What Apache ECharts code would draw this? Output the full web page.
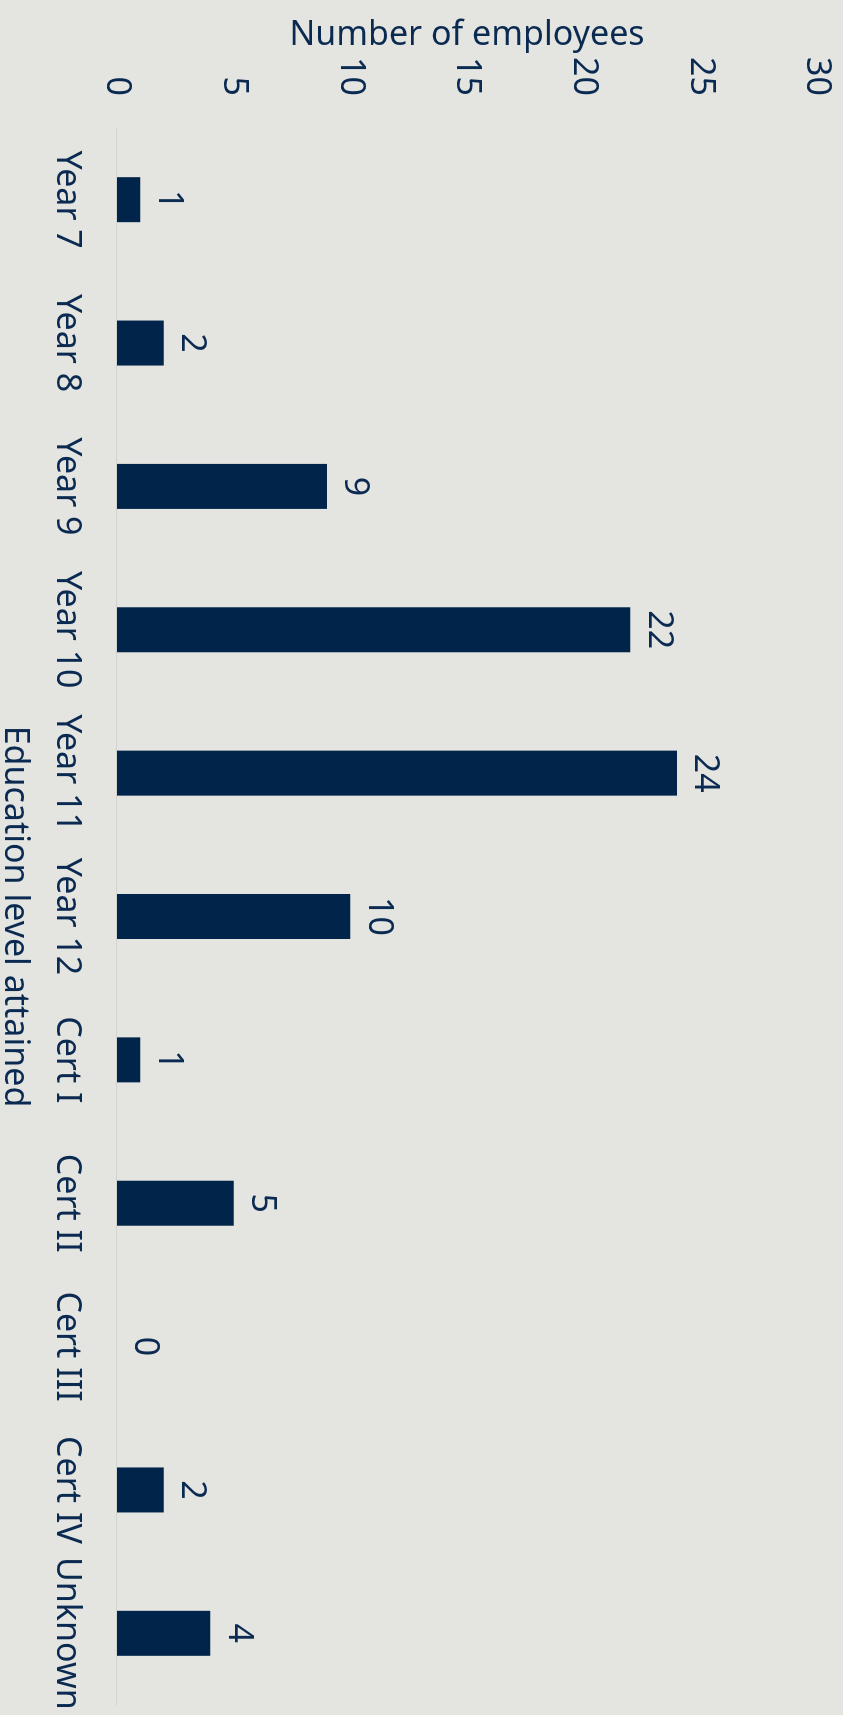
<!DOCTYPE html>
<html>
<head>
<meta charset="utf-8">
<title>Education level attained</title>
<script src="https://cdn.jsdelivr.net/npm/echarts@6/dist/echarts.min.js"></script>
<style>
  html, body { margin: 0; padding: 0; width: 843px; height: 1715px; overflow: hidden; background: #E4E5E0; }
  /* The chart is laid out landscape and turned a quarter turn clockwise onto the portrait page. */
  #chart {
    position: absolute; left: 0; top: 0;
    width: 1715px; height: 843px;
    transform-origin: 0 0;
    transform: translate(843px, 0) rotate(90deg);
  }
</style>
</head>
<body>
<div id="chart"></div>
<script>
const categories = ['Year 7', 'Year 8', 'Year 9', 'Year 10', 'Year 11', 'Year 12', 'Cert I', 'Cert II', 'Cert III', 'Cert IV', 'Unknown'];
const employees = [1, 2, 9, 22, 24, 10, 1, 5, 0, 2, 4];
const valueTicks = [0, 5, 10, 15, 20, 25, 30];

const NAVY = '#00244A';
const TEXT = '#0B2A52';
const FONT = 'Noto Sans';

const chart = echarts.init(document.getElementById('chart'), null, { renderer: 'canvas' });
chart.setOption({
  backgroundColor: '#E4E5E0',
  animation: false,
  grid: { left: 128, right: 10, top: 26, bottom: 117, outerBoundsMode: 'none', containLabel: false },
  xAxis: {
    type: 'category',
    data: categories,
    name: 'Education level attained',
    nameLocation: 'middle',
    nameGap: 85,
    nameMoveOverlap: false,
    nameTextStyle: { color: TEXT, fontFamily: FONT, fontSize: 34 },
    axisLine: { show: true, lineStyle: { color: '#D3D4CF', width: 1 } },
    axisTick: { show: false },
    axisLabel: { color: TEXT, fontFamily: FONT, fontSize: 34, margin: 33, interval: 0 }
  },
  yAxis: {
    type: 'value',
    min: valueTicks[0],
    max: valueTicks[valueTicks.length - 1],
    interval: valueTicks[1] - valueTicks[0],
    name: 'Number of employees',
    nameLocation: 'middle',
    nameGap: 76,
    nameMoveOverlap: false,
    nameTextStyle: { color: TEXT, fontFamily: FONT, fontSize: 34 },
    axisLine: { show: false },
    axisTick: { show: false },
    splitLine: { show: false },
    axisLabel: { color: TEXT, fontFamily: FONT, fontSize: 34, margin: 32 }
  },
  series: [{
    type: 'bar',
    data: employees,
    barWidth: 45,
    itemStyle: { color: NAVY },
    label: {
      show: true,
      position: 'top',
      distance: 11,
      color: TEXT,
      fontFamily: FONT,
      fontSize: 34
    }
  }]
});
</script>
</body>
</html>
